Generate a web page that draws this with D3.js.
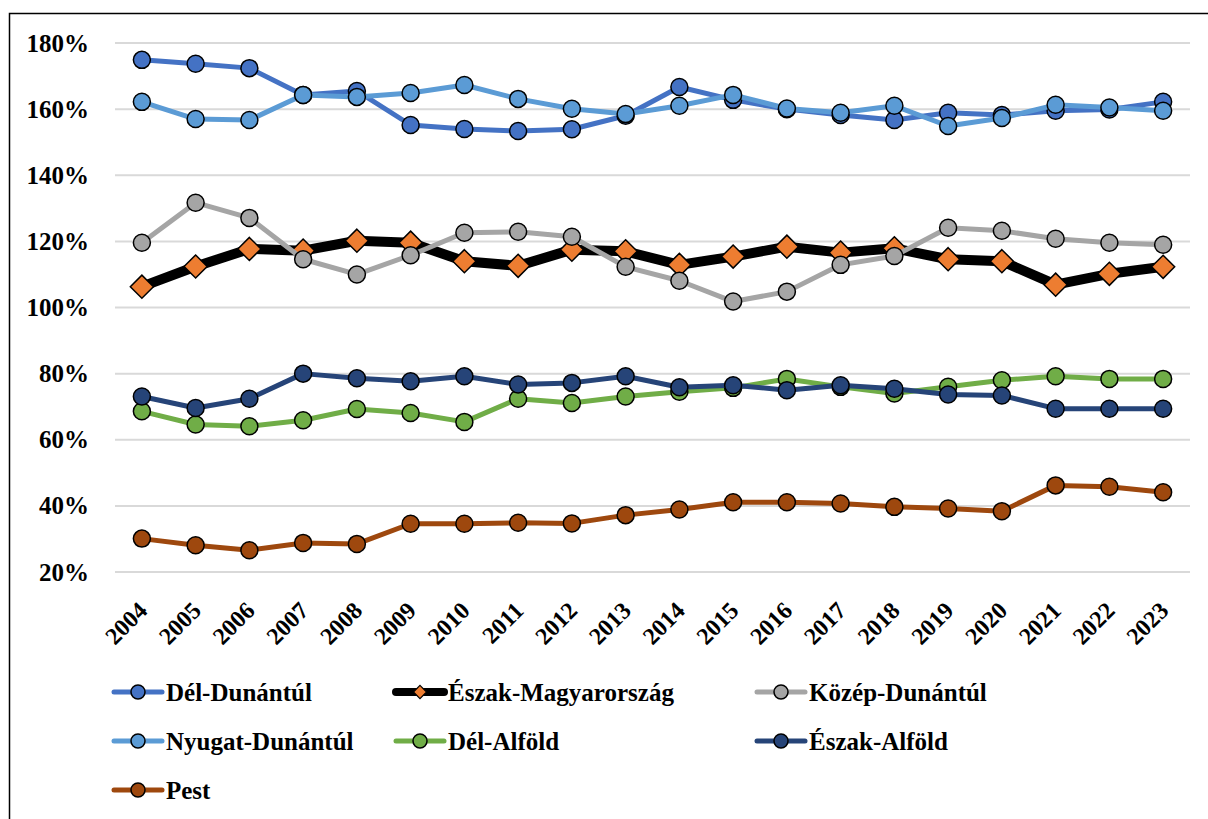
<!DOCTYPE html>
<html lang="hu">
  <head>
    <meta charset="utf-8">
    <title>Régiók</title>
    <style>
      body { margin: 0; background: #fff; }
    </style>
  </head>
  <body>
    <script src="https://d3js.org/d3.v7.min.js"></script>
    <script>
    const years = ["2004","2005","2006","2007","2008","2009","2010","2011","2012","2013","2014","2015","2016","2017","2018","2019","2020","2021","2022","2023"]
    const yTicks = [20, 40, 60, 80, 100, 120, 140, 160, 180]

    const delDunantul = [174.9,173.7,172.4,164.3,165.5,155.2,154.0,153.4,153.9,158.0,166.7,162.8,160.0,158.2,156.7,158.9,158.2,159.5,159.9,162.2]
    const eszakMagyarorszag = [106.3,112.4,117.7,117.2,120.2,119.6,114.0,112.6,117.5,117.0,112.9,115.4,118.4,116.6,117.9,114.6,114.0,106.9,110.2,112.3]
    const kozepDunantul = [119.6,131.7,127.1,114.6,110.0,115.8,122.6,122.9,121.4,112.3,108.1,101.8,104.8,112.9,115.6,124.1,123.2,120.8,119.6,119.0]
    const nyugatDunantul = [162.2,157.0,156.7,164.3,163.7,164.9,167.3,163.1,160.1,158.5,161.0,164.3,160.2,158.9,161.0,154.9,157.3,161.3,160.5,159.5]
    const delAlfold = [68.6,64.6,64.1,65.9,69.3,68.1,65.4,72.4,71.1,73.1,74.5,75.7,78.4,76.0,74.0,76.0,78.0,79.2,78.4,78.4]
    const eszakAlfold = [73.1,69.6,72.4,80.0,78.6,77.7,79.2,76.7,77.2,79.2,75.9,76.5,75.0,76.5,75.4,73.7,73.4,69.4,69.4,69.4]
    const pest = [30.1,28.1,26.6,28.8,28.5,34.6,34.6,34.9,34.7,37.2,38.9,41.1,41.1,40.7,39.7,39.2,38.4,46.2,45.8,44.1]

    const series = [
      { name: "Dél-Dunántúl", values: delDunantul, line: "#4472C4", fill: "#4472C4", width: 5, shape: "circle" },
      { name: "Észak-Magyarország", values: eszakMagyarorszag, line: "#000000", fill: "#ED7D31", width: 10, shape: "diamond" },
      { name: "Közép-Dunántúl", values: kozepDunantul, line: "#A5A5A5", fill: "#A5A5A5", width: 5, shape: "circle" },
      { name: "Nyugat-Dunántúl", values: nyugatDunantul, line: "#5B9BD5", fill: "#5B9BD5", width: 5, shape: "circle" },
      { name: "Dél-Alföld", values: delAlfold, line: "#70AD47", fill: "#70AD47", width: 5, shape: "circle" },
      { name: "Észak-Alföld", values: eszakAlfold, line: "#264478", fill: "#264478", width: 5, shape: "circle" },
      { name: "Pest", values: pest, line: "#9E480E", fill: "#9E480E", width: 5, shape: "circle" }
    ]

    const w = 1208
    const h = 819
    const plotL = 115, plotR = 1190
    const plotT = 43, plotB = 572
    const serif = "'Liberation Serif', 'Times New Roman', 'DejaVu Serif', serif"

    const svg = d3.select("body").append("svg")
      .attr("width", w).attr("height", h)

    // outer frame, runs off the right and bottom edge
    svg.append("rect")
      .attr("x", 9.5).attr("y", 13.5)
      .attr("width", 1400).attr("height", 1000)
      .attr("fill", "none").attr("stroke", "#000").attr("stroke-width", 1.5)

    const x = d3.scaleBand().domain(years).range([plotL, plotR])
    const cx = d => x(d) + x.bandwidth() / 2
    const y = d3.scaleLinear().domain([20, 180]).range([plotB, plotT])

    // gridlines
    svg.append("g").selectAll("line")
      .data(yTicks).enter().append("line")
      .attr("x1", plotL).attr("x2", plotR)
      .attr("y1", d => y(d)).attr("y2", d => y(d))
      .attr("stroke", "#D9D9D9").attr("stroke-width", 2)

    const yAxis = svg.append("g")
      .attr("transform", `translate(${plotL}, 0)`)
      .call(d3.axisLeft(y).tickValues(yTicks).tickFormat(d => d + "%").tickSize(0).tickPadding(26))
    yAxis.select(".domain").remove()
    yAxis.attr("font-family", serif)
    yAxis.selectAll("text")
      .style("font-family", serif).style("font-size", "25px").style("font-weight", "bold")
      .attr("fill", "#000")

    const xAxis = svg.append("g")
      .attr("transform", `translate(0, ${plotB})`)
      .call(d3.axisBottom(x).tickSize(0))
    xAxis.select(".domain").remove()
    xAxis.attr("font-family", serif)
    xAxis.selectAll("text")
      .style("font-family", serif).style("font-size", "24px").style("font-weight", "bold")
      .attr("fill", "#000")
      .attr("text-anchor", "end")
      .attr("x", 0).attr("y", 0).attr("dy", "0.35em")
      .attr("transform", "translate(1, 34) rotate(-45)")

    const diamond = d3.symbol().type(d3.symbolDiamond2)

    const line = d3.line().x((d, i) => cx(years[i])).y(d => y(d))

    series.forEach(s => {
      const g = svg.append("g")
      g.append("path")
        .attr("d", line(s.values))
        .attr("fill", "none")
        .attr("stroke", s.line)
        .attr("stroke-width", s.width)
        .attr("stroke-linejoin", "round")
        .attr("stroke-linecap", "round")
      if (s.shape === "circle") {
        g.selectAll("circle").data(s.values).enter().append("circle")
          .attr("cx", (d, i) => cx(years[i]))
          .attr("cy", d => y(d))
          .attr("r", 8.5)
          .attr("fill", s.fill).attr("stroke", "#000").attr("stroke-width", 1.5)
      } else {
        g.selectAll("path.m").data(s.values).enter().append("path")
          .attr("class", "m")
          .attr("d", diamond.size(340)())
          .attr("transform", (d, i) => `translate(${cx(years[i])}, ${y(d)})`)
          .attr("fill", s.fill).attr("stroke", "#000").attr("stroke-width", 1.5)
      }
    })

    // legend
    const legCols = [114, 396, 757]
    const legRows = [692, 741, 790]
    const legend = svg.append("g").selectAll("g")
      .data(series).enter().append("g")
      .attr("transform", (d, i) => `translate(${legCols[i % 3]}, ${legRows[Math.floor(i / 3)]})`)

    legend.append("line")
      .attr("x1", 0).attr("x2", 48)
      .attr("stroke", d => d.line)
      .attr("stroke-width", d => d.width === 10 ? 8 : 5)
      .attr("stroke-linecap", "round")

    legend.each(function (d) {
      const g = d3.select(this)
      if (d.shape === "circle") {
        g.append("circle").attr("cx", 24).attr("r", 7)
          .attr("fill", d.fill).attr("stroke", "#000").attr("stroke-width", 1.5)
      } else {
        g.append("path").attr("d", diamond.size(110)())
          .attr("transform", "translate(24, 0)")
          .attr("fill", d.fill).attr("stroke", "#000").attr("stroke-width", 1.2)
      }
    })

    legend.append("text")
      .attr("x", 52).attr("dy", "0.35em")
      .style("font-family", serif).style("font-size", "25px").style("font-weight", "bold")
      .attr("fill", "#000")
      .text(d => d.name)
    </script>
  </body>
</html>
